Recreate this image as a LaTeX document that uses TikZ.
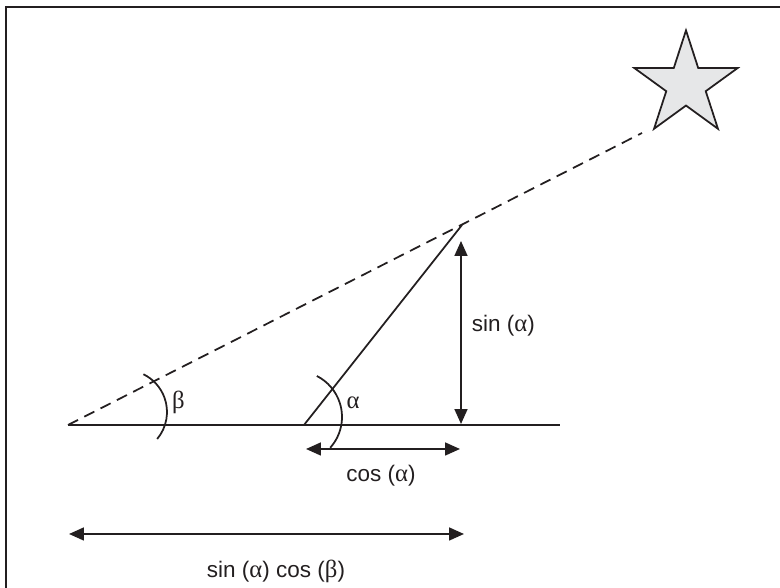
\documentclass[tikz,border=0pt]{standalone}
\usepackage{fontspec}
\setmainfont{Liberation Sans}
\newfontfamily\greekfont[Scale=1.1]{Liberation Serif}
\usetikzlibrary{positioning,arrows.meta,shapes.geometric}
\definecolor{ink}{HTML}{231F20}
\definecolor{starfill}{HTML}{E6E7E8}
\newcommand{\al}{{\greekfont α}}
\newcommand{\be}{{\greekfont β}}

\begin{document}
\begin{tikzpicture}[
    line width=1.25pt, draw=ink,
    every node/.style={text=ink, font=\fontsize{16}{19}\selectfont},
    frameline/.style={line width=1.8pt},
    sightline/.style={dash pattern=on 8pt off 5pt},
    dimarrow/.style={{Triangle[length=3.7mm,width=3.2mm]}-{Triangle[length=3.7mm,width=3.2mm]}},
    anglemark/.style={line width=1.25pt},
    lbl/.style={anchor=base, inner sep=0pt}
]
\useasboundingbox (0,0) rectangle (19.5,14.7);
% frame (top and left edge only)
\draw[frameline] (0.15,0) -- (0.15,14.525) -- (19.5,14.525);

% points
\coordinate (obs) at (1.70,4.075);
\coordinate (rod) at (7.60,4.075);
\coordinate (tip) at (11.55,9.075);
\coordinate (grnd) at (14.00,4.075);
\coordinate (ray) at (16.05,11.375);
\node[star, star points=5, star point ratio=2.62, minimum size=2.72cm, inner sep=0pt,
      draw, fill=starfill] (sun) at (17.15,12.58) {};

% ground, rod and line of sight
\draw (obs) -- (grnd);
\draw (rod) -- (tip);
\draw[sightline] (obs) -- (ray);

% angle marks
\coordinate (bc) at (3.125,4.40);
\coordinate (ac) at (7.40,4.275);
\draw[anglemark] ([shift={(-40:1.05)}]bc) arc[start angle=-40, end angle=64, radius=1.05];
\draw[anglemark] ([shift={(-42:1.15)}]ac) arc[start angle=-42, end angle=63, radius=1.15];
\node[lbl] (beta) at (4.46,4.475) {\be};
\node[lbl] (alpha) at (8.83,4.475) {\al};

% dimensions
\coordinate (sintop) at (11.525,8.675);
\coordinate (sinbot) at (11.525,4.10);
\draw[dimarrow] (sintop) -- (sinbot);
\node[lbl, anchor=base west] (sinlbl) at (11.775,6.40) {sin (\al)};

\coordinate (cosl) at (7.65,3.475);
\coordinate (cosr) at (11.50,3.475);
\draw[dimarrow] (cosl) -- (cosr);
\node[lbl] (coslbl) at (9.525,2.65) {cos (\al)};

\coordinate (prodl) at (1.725,1.35);
\coordinate (prodr) at (11.60,1.35);
\draw[dimarrow] (prodl) -- (prodr);
\node[lbl] (prodlbl) at (6.90,0.25) {sin (\al) cos (\be)};
\end{tikzpicture}
\end{document}
